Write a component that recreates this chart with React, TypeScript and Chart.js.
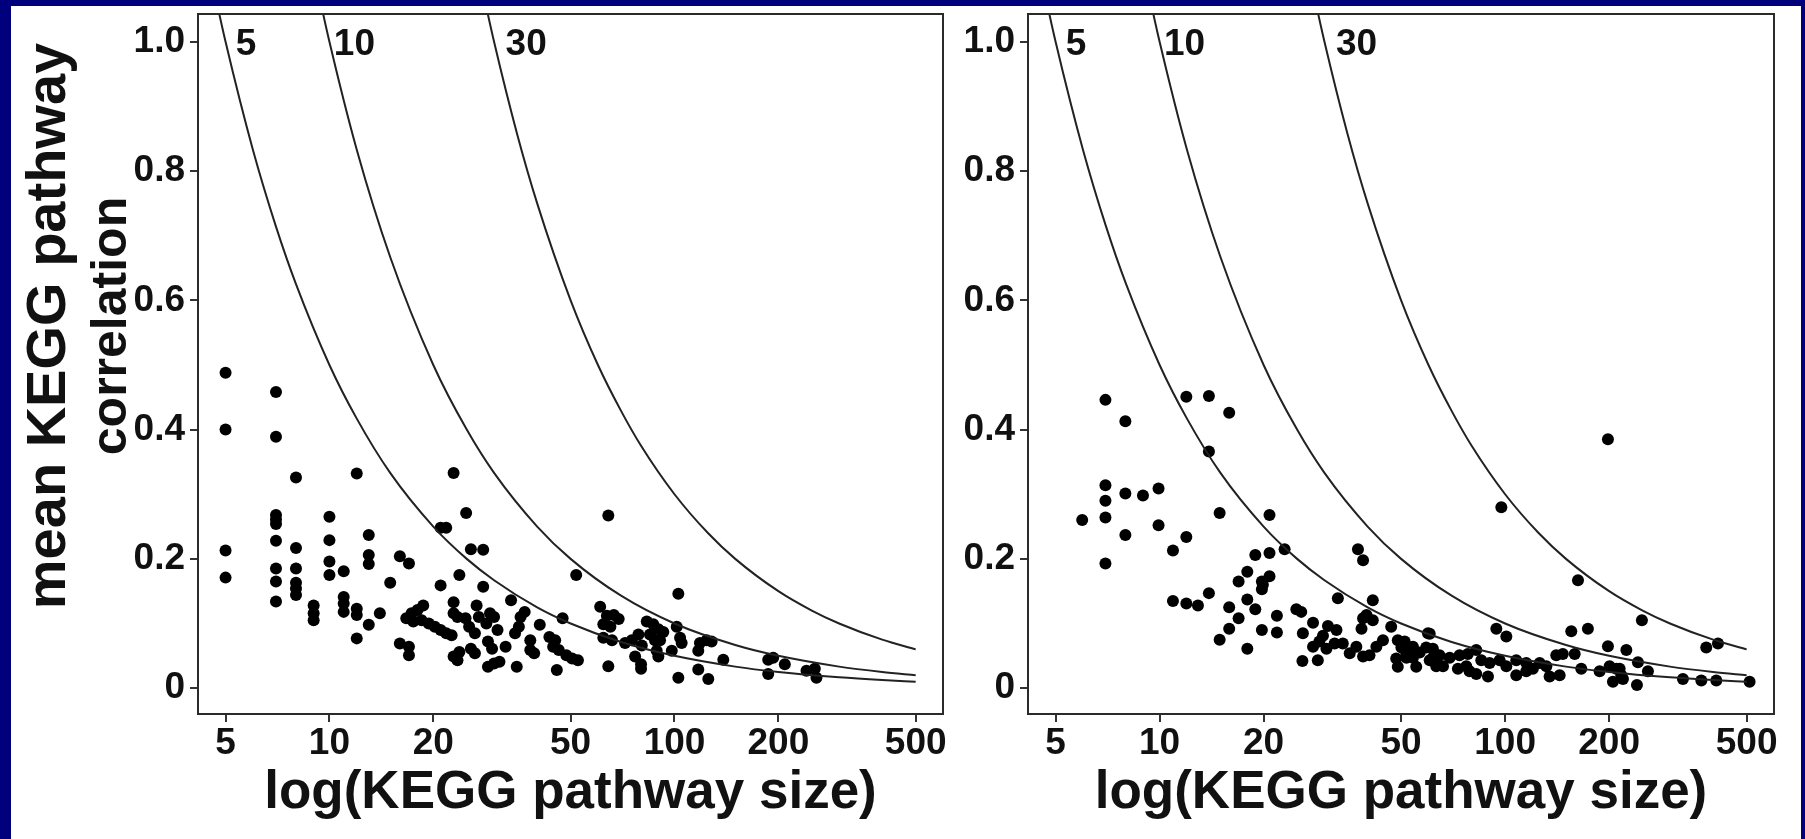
import React, { useEffect, useRef } from "react";
import { Chart, registerables } from "chart.js";
Chart.register(...registerables);

// ---------- axes ----------
const xTicks = [5, 10, 20, 50, 100, 200, 500];
const xTickLabels = ["5", "10", "20", "50", "100", "200", "500"];
const yTicks = [0, 0.2, 0.4, 0.6, 0.8, 1.0];
const yTickLabels = ["0", "0.2", "0.4", "0.6", "0.8", "1.0"];
const X_MIN = 4.16;
const X_MAX = 600;
const Y_MIN = -0.04;
const Y_MAX = 1.043;
const xTitle = "log(KEGG pathway size)";
const yTitleLines = ["mean KEGG pathway", "correlation"];

// ---------- reference curves ----------
const curveNames = ["5", "10", "30"];
const curve5X = [4.6, 5, 6, 7, 8, 10, 12, 15, 20, 25, 30, 40, 50, 70, 100, 150, 200, 300, 400, 500];
const curve5Y = [1.087, 1.0, 0.833, 0.714, 0.625, 0.5, 0.417, 0.333, 0.25, 0.2, 0.167, 0.125, 0.1, 0.0714, 0.05, 0.0333, 0.025, 0.0167, 0.0125, 0.01];
const curve10X = [9.2, 10, 12, 15, 20, 25, 30, 40, 50, 70, 100, 150, 200, 300, 400, 500];
const curve10Y = [1.087, 1.0, 0.833, 0.667, 0.5, 0.4, 0.333, 0.25, 0.2, 0.143, 0.1, 0.0667, 0.05, 0.0333, 0.025, 0.02];
const curve30X = [27.6, 30, 35, 40, 50, 60, 70, 80, 100, 125, 150, 200, 250, 300, 400, 500];
const curve30Y = [1.087, 1.0, 0.857, 0.75, 0.6, 0.5, 0.429, 0.375, 0.3, 0.24, 0.2, 0.15, 0.12, 0.1, 0.075, 0.06];
const curveLabelX = [5.35, 10.3, 32.4];
const curveLabelY = [0.98, 0.98, 0.98];

// ---------- left panel points ----------
const leftSizes = [5,5,5,5,7,7,7,7,7,7,7,7,7,8,8,8,8,8,8,9,9,9,10,10,10,10,11,11,11,11,12,12,12,12,13,13,13,13,14,15,16,17,16,17,17,16.7,17.3,18,18.7,17.5,18.5,19.4,20.2,21,21.8,22.6,21,21,21.8,22.9,24.9,25.7,27.9,23.8,22.9,22.9,23.5,24.8,25.4,26.4,26.7,27.1,27.9,22.9,23.5,23.8,25.7,26.4,28.5,29.2,30,28.8,29.6,30.7,28.8,30,31.1,32.4,34.9,33.6,34.5,35.4,35.8,36.8,38.2,38.2,39.2,40.7,43.4,45.1,44.5,46.2,47.4,45.6,48.6,50.5,52.5,51.9,64.3,102.6,60.9,63.7,66.7,68.9,62.2,65.2,62.2,65.9,71.9,75.2,78.6,80.4,76.9,80,80,83.1,86.8,89.8,92.8,84.9,87.8,90.8,88.8,89.8,98.2,101.5,103.8,104.9,102.6,118.5,117.2,123.9,128.1,138.5,117.2,125.3,186.9,193.2,208.8,186.9,241.3,255.1,257.9,64.3];
const leftCorr = [0.488,0.400,0.213,0.171,0.458,0.389,0.268,0.261,0.254,0.228,0.185,0.165,0.134,0.326,0.217,0.185,0.163,0.154,0.144,0.128,0.116,0.105,0.265,0.229,0.196,0.175,0.181,0.141,0.131,0.118,0.332,0.123,0.113,0.077,0.237,0.206,0.192,0.098,0.116,0.163,0.204,0.193,0.069,0.064,0.051,0.108,0.116,0.121,0.128,0.103,0.105,0.100,0.095,0.090,0.085,0.082,0.159,0.248,0.248,0.333,0.271,0.215,0.214,0.175,0.133,0.116,0.110,0.108,0.095,0.085,0.128,0.110,0.157,0.049,0.043,0.056,0.061,0.054,0.100,0.116,0.110,0.072,0.061,0.090,0.033,0.038,0.041,0.064,0.033,0.136,0.085,0.095,0.110,0.118,0.074,0.059,0.054,0.098,0.079,0.074,0.064,0.059,0.108,0.028,0.051,0.046,0.043,0.175,0.267,0.146,0.126,0.112,0.113,0.107,0.099,0.095,0.078,0.074,0.070,0.074,0.083,0.066,0.049,0.037,0.030,0.103,0.099,0.091,0.087,0.083,0.074,0.074,0.058,0.049,0.058,0.095,0.078,0.070,0.016,0.070,0.058,0.074,0.072,0.044,0.029,0.014,0.044,0.047,0.037,0.022,0.027,0.030,0.016,0.034];

// ---------- right panel points ----------
const rightSizes = [6.97,11.95,13.89,15.9,7.96,5.97,6.97,6.97,6.97,6.97,7.96,7.96,8.95,9.93,9.93,10.93,10.93,11.95,11.95,12.91,13.89,13.89,14.92,14.92,15.9,15.9,16.93,16.93,17.94,17.94,17.94,18.92,18.92,19.77,19.77,19.77,19.9,20.8,20.8,20.8,21.85,21.85,23.0,24.87,25.7,25.98,25.9,27.8,29.7,30.7,32.5,27.8,29.0,30.4,32.1,33.9,28.7,32.8,37.5,38.8,41.4,35.5,37.1,38.8,40.5,42.4,44.3,38.8,39.7,41.4,38.4,46.8,48.9,51.2,48.4,51.8,55.3,59.8,61.8,60.5,63.9,54.1,48.9,198.4,97.5,162.5,248.8,382,413,155.4,173.6,94.3,100.8,198.4,224.3,242.3,259,159,140.6,146.9,166.1,187.7,200.6,209.8,216.9,205.1,219.3,214.5,240.7,327,369.7,408.5,510,90.2,96.4,100.8,107.7,115.1,120.3,125.9,131.6,134.5,143.8,107.7,115.1,89.2,82.5,77.2,73.0,66.1,64.6,61.8,59.1,60.5,56.6,54.1,51.8,50.1,63.2,69.1,73.8,78.0,82.5,85.3,78.9];
const rightCorr = [0.446,0.451,0.452,0.426,0.413,0.260,0.314,0.290,0.264,0.193,0.301,0.237,0.298,0.309,0.252,0.213,0.135,0.234,0.131,0.128,0.366,0.147,0.271,0.075,0.125,0.092,0.165,0.108,0.180,0.137,0.061,0.206,0.122,0.165,0.153,0.090,0.160,0.268,0.209,0.173,0.112,0.086,0.215,0.122,0.118,0.085,0.042,0.101,0.081,0.096,0.090,0.064,0.072,0.061,0.069,0.069,0.043,0.139,0.215,0.198,0.136,0.054,0.064,0.049,0.051,0.064,0.074,0.108,0.113,0.105,0.092,0.095,0.074,0.072,0.046,0.054,0.033,0.085,0.061,0.043,0.049,0.064,0.033,0.385,0.280,0.167,0.105,0.063,0.069,0.088,0.092,0.092,0.080,0.065,0.059,0.040,0.026,0.053,0.051,0.053,0.030,0.026,0.034,0.030,0.020,0.010,0.014,0.030,0.005,0.014,0.012,0.012,0.010,0.039,0.043,0.034,0.043,0.039,0.030,0.039,0.034,0.018,0.020,0.020,0.026,0.018,0.022,0.034,0.030,0.034,0.051,0.047,0.063,0.084,0.055,0.047,0.047,0.063,0.034,0.047,0.051,0.053,0.059,0.043,0.026];

const FONT = '"Liberation Sans", Arial, Helvetica, sans-serif';
const INK = "#111";

const zip = (xs: number[], ys: number[]) =>
  xs.slice(0, Math.min(xs.length, ys.length)).map((x, i) => ({ x, y: ys[i] }));

const decorPlugin = {
  id: "decor",
  afterDraw(chart: any, _args: any, opts: any) {
    const { ctx, chartArea: a, scales } = chart;
    ctx.save();
    // box
    ctx.strokeStyle = "#2a2a2a";
    ctx.lineWidth = 2;
    ctx.strokeRect(a.left, a.top, a.right - a.left, a.bottom - a.top);
    // curve labels
    ctx.fillStyle = INK;
    ctx.font = `bold 37px ${FONT}`;
    ctx.textAlign = "left";
    ctx.textBaseline = "alphabetic";
    curveNames.forEach((t, i) => {
      ctx.fillText(t, scales.x.getPixelForValue(curveLabelX[i]), scales.y.getPixelForValue(curveLabelY[i]));
    });
    // x title
    ctx.font = `bold 53px ${FONT}`;
    ctx.textAlign = "center";
    ctx.fillText(xTitle, (a.left + a.right) / 2, opts.xTitleY);
    // y title
    if (opts.yTitle) {
      const xs = opts.yTitleX as number[];
      const sizes = opts.yTitleSizes as number[];
      yTitleLines.forEach((line, i) => {
        ctx.save();
        ctx.font = `bold ${sizes[i]}px ${FONT}`;
        ctx.translate(xs[i], opts.yTitleCenter);
        ctx.rotate(-Math.PI / 2);
        ctx.textAlign = "center";
        ctx.textBaseline = "alphabetic";
        ctx.fillText(line, 0, 0);
        ctx.restore();
      });
    }
    ctx.restore();
  },
};

type PanelProps = {
  sizes: number[];
  corr: number[];
  left: number;
  width: number;
  yAxisWidth: number;
  padRight: number;
  yTitle: boolean;
};

function Panel({ sizes, corr, left, width, yAxisWidth, padRight, yTitle }: PanelProps) {
  const ref = useRef<HTMLCanvasElement | null>(null);
  useEffect(() => {
    if (!ref.current) return;
    const tickFont = { family: FONT, size: 37, weight: "bold" as const };
    const curveDs = (xs: number[], ys: number[]) => ({
      data: zip(xs, ys),
      showLine: true,
      pointRadius: 0,
      borderColor: "#222",
      borderWidth: 2,
      cubicInterpolationMode: "monotone" as const,
      fill: false,
    });
    const chart = new Chart(ref.current, {
      type: "scatter",
      data: {
        datasets: [
          curveDs(curve5X, curve5Y),
          curveDs(curve10X, curve10Y),
          curveDs(curve30X, curve30Y),
          {
            data: zip(sizes, corr),
            pointRadius: 6,
            pointHoverRadius: 6,
            backgroundColor: "#000",
            borderWidth: 0,
          },
        ],
      },
      options: {
        animation: false,
        responsive: false,
        devicePixelRatio: 1,
        events: [],
        layout: { padding: { left: 0, right: padRight, top: 14, bottom: 0 } },
        plugins: {
          legend: { display: false },
          tooltip: { enabled: false },
          decor: { yTitle, yTitleX: [65, 126], yTitleSizes: [56, 50], yTitleCenter: 326, xTitleY: 808 },
        } as any,
        scales: {
          x: {
            type: "logarithmic",
            min: X_MIN,
            max: X_MAX,
            bounds: "data",
            afterBuildTicks: (s: any) => {
              s.ticks = xTicks.map((v) => ({ value: v }));
            },
            afterFit: (s: any) => {
              s.height = 125;
              s.paddingLeft = 0;
              s.paddingRight = 0;
              s.paddingTop = 0;
              s.paddingBottom = 0;
            },
            grid: { display: true, drawOnChartArea: false, drawTicks: true, tickLength: 8, color: "#333", lineWidth: 2 },
            border: { display: false },
            ticks: {
              autoSkip: false,
              maxRotation: 0,
              minRotation: 0,
              padding: 0,
              color: INK,
              font: tickFont,
              callback: (_v: any, i: number) => xTickLabels[i],
            },
          },
          y: {
            type: "linear",
            min: Y_MIN,
            max: Y_MAX,
            bounds: "data",
            afterBuildTicks: (s: any) => {
              s.ticks = yTicks.map((v) => ({ value: v }));
            },
            afterFit: (s: any) => {
              s.width = yAxisWidth;
              s.paddingLeft = 0;
              s.paddingRight = 0;
              s.paddingTop = 0;
              s.paddingBottom = 0;
            },
            grid: { display: true, drawOnChartArea: false, drawTicks: true, tickLength: 8, color: "#333", lineWidth: 2 },
            border: { display: false },
            ticks: {
              autoSkip: false,
              padding: 5,
              color: INK,
              font: tickFont,
              callback: (_v: any, i: number) => yTickLabels[i],
            },
          },
        },
      },
      plugins: [decorPlugin],
    } as any);
    return () => chart.destroy();
  }, [sizes, corr, left, width, yAxisWidth, padRight, yTitle]);

  return (
    <canvas
      ref={ref}
      width={width}
      height={839}
      style={{ position: "absolute", left, top: 0, width, height: 839 }}
    />
  );
}

export default function App() {
  return (
    <div
      style={{
        position: "fixed",
        left: 0,
        top: 0,
        width: 1805,
        height: 839,
        background: "#00007c",
        overflow: "hidden",
      }}
    >
      <div style={{ position: "absolute", left: 11, top: 6, width: 1790, height: 833, background: "#fff" }} />
      <Panel sizes={leftSizes} corr={leftCorr} left={0} width={985} yAxisWidth={198} padRight={42} yTitle={true} />
      <Panel sizes={rightSizes} corr={rightCorr} left={900} width={905} yAxisWidth={128} padRight={31} yTitle={false} />
    </div>
  );
}
